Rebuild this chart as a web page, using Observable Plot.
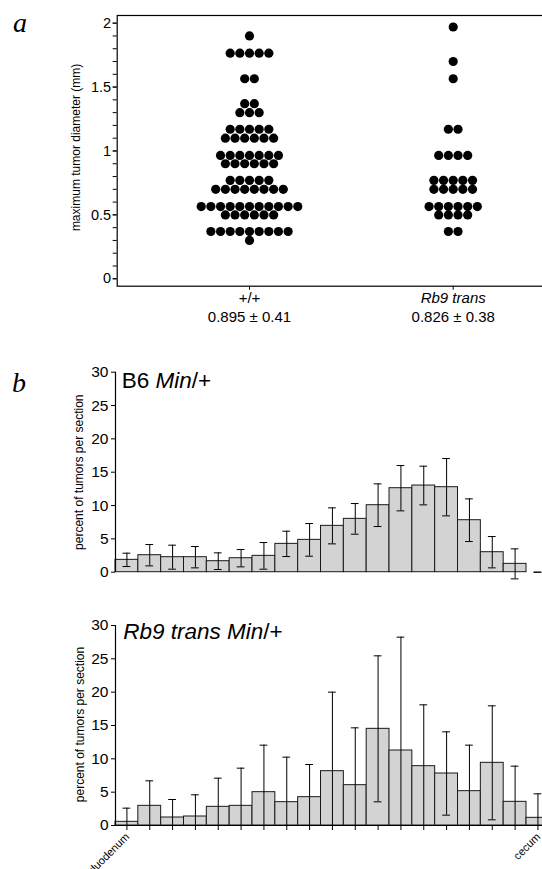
<!DOCTYPE html>
<html><head><meta charset="utf-8">
<script src="https://cdn.jsdelivr.net/npm/d3@7"></script>
<script src="https://cdn.jsdelivr.net/npm/@observablehq/plot@0.6"></script>
<style>
html,body{margin:0;padding:0;background:#fff;}
#wrap{position:relative;width:542px;height:869px;overflow:hidden;}
#wrap svg{position:absolute;left:0;display:block;}
</style></head><body><div id="wrap"></div>
<script>
// ---------- Panel a data ----------
const groups = ["+/+", "Rb9 trans"];
const groupStats = ["0.895 \u00b1 0.41", "0.826 \u00b1 0.38"];
const wtDiameters = [
  1.90,
  1.765, 1.765, 1.765, 1.765, 1.765,
  1.565, 1.565,
  1.37, 1.37,
  1.30, 1.30, 1.30,
  1.17, 1.17, 1.17, 1.17, 1.17,
  1.10, 1.10, 1.10, 1.10, 1.10, 1.10,
  0.965, 0.965, 0.965, 0.965, 0.965, 0.965, 0.965,
  0.90, 0.90, 0.90, 0.90, 0.90, 0.90,
  0.77, 0.77, 0.77, 0.77, 0.77,
  0.70, 0.70, 0.70, 0.70, 0.70, 0.70, 0.70, 0.70,
  0.565, 0.565, 0.565, 0.565, 0.565, 0.565, 0.565, 0.565, 0.565, 0.565, 0.565,
  0.50, 0.50, 0.50, 0.50, 0.50, 0.50,
  0.37, 0.37, 0.37, 0.37, 0.37, 0.37, 0.37, 0.37, 0.37,
  0.30
];
const rb9Diameters = [
  1.97,
  1.70,
  1.565,
  1.17, 1.17,
  0.965, 0.965, 0.965, 0.965,
  0.77, 0.77, 0.77, 0.77, 0.77,
  0.70, 0.70, 0.70, 0.70, 0.70,
  0.565, 0.565, 0.565, 0.565, 0.565, 0.565,
  0.50, 0.50, 0.50, 0.50,
  0.37, 0.37
];
const diamTicks = [0, 0.5, 1, 1.5, 2];
const diamMinorTicks = [0,0.1,0.2,0.3,0.4,0.5,0.6,0.7,0.8,0.9,1,1.1,1.2,1.3,1.4,1.5,1.6,1.7,1.8,1.9,2];

// ---------- Panel b data ----------
const b6Percent  = [1.85, 2.55, 2.25, 2.25, 1.65, 2.1, 2.45, 4.25, 4.85, 6.95, 8.0, 10.05, 12.6, 13.0, 12.75, 7.8, 3.0, 1.25, 0];
const b6Error    = [1.0, 1.6, 1.8, 1.6, 1.25, 1.3, 2.0, 1.9, 2.45, 2.7, 2.3, 3.2, 3.4, 2.9, 4.3, 3.2, 2.35, 2.25, 0];
const rb9Percent = [0.55, 2.95, 1.2, 1.35, 2.8, 2.95, 5.0, 3.5, 4.25, 8.15, 6.05, 14.5, 11.25, 8.9, 7.8, 5.15, 9.4, 3.55, 1.15];
const rb9Error   = [2.05, 3.75, 2.7, 3.25, 4.3, 5.65, 7.05, 6.75, 4.9, 11.85, 8.6, 10.95, 17.0, 9.2, 6.25, 6.9, 8.55, 5.35, 3.6];
const percentTicks = [0, 5, 10, 15, 20, 25, 30];
const sectionEndLabels = ["duodenum", "cecum"];

const FONT = "'Liberation Sans', Arial, Helvetica, sans-serif";
const SERIF = "'Liberation Serif', 'Times New Roman', serif";
const wrap = document.getElementById("wrap");
const fmt = d => String(d);

// ---------- Panel a ----------
function swarm(values, g, step) {
  const out = [];
  for (const [v, arr] of d3.group(values, d => d)) {
    const n = arr.length;
    arr.forEach((_, i) => out.push({group: g, value: v, xpos: g + (i - (n - 1) / 2) * step}));
  }
  return out;
}
const dotStep = 0.0474;
const dots = [...swarm(wtDiameters, 0, dotStep), ...swarm(rb9Diameters, 1, dotStep)];

const plotA = Plot.plot({
  width: 542, height: 335,
  marginLeft: 116.7, marginRight: -2, marginTop: 15, marginBottom: 49.3,
  style: {fontFamily: FONT, fontSize: "14px", color: "black", background: "transparent"},
  x: {domain: [-0.6495, 1.4482], axis: null},
  y: {domain: [-0.058, 2.06], axis: null},
  marks: [
    Plot.frame({stroke: "black", strokeWidth: 1.2}),
    Plot.axisY({ticks: diamMinorTicks, tickSize: 4, tickFormat: () => "", label: null}),
    Plot.axisY({ticks: diamTicks, tickSize: 4, tickPadding: 2, fontSize: 14.5, tickFormat: fmt, label: null}),
    Plot.axisX({ticks: [0, 1], tickSize: 4, tickFormat: () => "", label: null}),
    Plot.dot(dots, {x: "xpos", y: "value", r: 4.6, fill: "black", stroke: "none"}),
    Plot.text(groups.slice(0, 1), {x: 0, frameAnchor: "bottom", text: d => d, dy: 16.3, fontSize: 15}),
    Plot.text(groups.slice(1, 2), {x: 1, frameAnchor: "bottom", text: d => d, dy: 16.3, fontSize: 15, fontStyle: "italic"}),
    Plot.text(groupStats, {x: (d, i) => i, frameAnchor: "bottom", text: d => d, dy: 36, fontSize: 15}),
    Plot.text(["maximum tumor diameter (mm)"], {frameAnchor: "left", textAnchor: "middle", text: d => d, rotate: -90, dx: -40.7, dy: -3.4, fontSize: 12})
  ]
});
plotA.style.top = "0px";
d3.select(plotA).append("text").attr("x", 13).attr("y", 31.7).attr("text-anchor", "start")
  .attr("font-family", SERIF).attr("font-style", "italic").attr("font-size", 28).text("a");
wrap.appendChild(plotA);

// ---------- Panel b ----------
function barChart(values, errors, cfg) {
  const rows = values.map((v, i) => {
    const lo = v - errors[i], hi = v + errors[i];
    return {i, v, lo, hi};
  });
  const cap = 0.17;
  const marks = [
    Plot.rect(rows, {x1: d => d.i, x2: d => d.i + 1, y1: 0, y2: "v", fill: "#d3d3d3", stroke: "#1a1a1a", strokeWidth: 1}),
    Plot.ruleX(rows, {x: d => d.i + 0.5, y1: d => cfg.clampLow ? Math.max(0, d.lo) : d.lo, y2: "hi", stroke: "black", strokeWidth: 1}),
    Plot.ruleY(rows, {y: "hi", x1: d => d.i + 0.5 - cap, x2: d => d.i + 0.5 + cap, stroke: "black", strokeWidth: 1}),
    Plot.ruleY(rows.filter(d => !cfg.clampLow || d.lo > 0), {y: "lo", x1: d => d.i + 0.5 - cap, x2: d => d.i + 0.5 + cap, stroke: "black", strokeWidth: 1}),
    Plot.ruleX([0], {y1: percentTicks[0], y2: percentTicks[percentTicks.length - 1], stroke: "black", strokeWidth: 1.2}),
    Plot.axisY({ticks: percentTicks, tickSize: 4, tickPadding: 3, fontSize: 15.5, tickFormat: fmt, label: null}),
    Plot.text(["percent of tumors per section"], {frameAnchor: "left", textAnchor: "middle", text: d => d, rotate: -90, dx: cfg.labelDx, dy: cfg.labelDy, fontSize: 12})
  ];
  if (cfg.xAxis) {
    marks.push(
      Plot.ruleY([0], {stroke: "black", strokeWidth: 1.2}),
      Plot.axisX({ticks: rows.map(d => d.i + 0.5), tickSize: 5, tickFormat: () => "", label: null}),
      Plot.text([sectionEndLabels[0]], {x: 0.5, frameAnchor: "bottom", text: d => d, rotate: -45, textAnchor: "end", dx: 3, dy: 12, fontSize: 11}),
      Plot.text([sectionEndLabels[1]], {x: values.length - 0.5, frameAnchor: "bottom", text: d => d, rotate: -45, textAnchor: "end", dx: 3, dy: 12, fontSize: 11})
    );
  }
  return Plot.plot({
    width: 542, height: cfg.height,
    marginLeft: 115, marginRight: 0, marginTop: cfg.marginTop, marginBottom: cfg.marginBottom,
    style: {fontFamily: FONT, fontSize: "14px", color: "black", background: "transparent"},
    x: {domain: [0, 18.7], axis: null},
    y: {domain: [0, 30], axis: null},
    marks
  });
}

const plotB1 = barChart(b6Percent, b6Error, {height: 250, marginTop: 31.7, marginBottom: 18.3, labelDx: -36, labelDy: 0, clampLow: false, xAxis: false});
plotB1.style.top = "340px";
{
  const t = d3.select(plotB1).append("text").attr("x", 121.7).attr("y", 48.3).attr("text-anchor", "start")
    .attr("font-family", FONT).attr("font-size", 22.5);
  t.append("tspan").text("B6 ");
  t.append("tspan").attr("font-style", "italic").text("Min");
  t.append("tspan").text("/+");
  d3.select(plotB1).append("text").attr("x", 12).attr("y", 51.7).attr("text-anchor", "start")
    .attr("font-family", SERIF).attr("font-style", "italic").attr("font-size", 28).text("b");
}
wrap.appendChild(plotB1);

const plotB2 = barChart(rb9Percent, rb9Error, {height: 279, marginTop: 35, marginBottom: 44, labelDx: -35, labelDy: -1, clampLow: true, xAxis: true});
plotB2.style.top = "590px";
{
  const t = d3.select(plotB2).append("text").attr("x", 123.3).attr("y", 49.3).attr("text-anchor", "start")
    .attr("font-family", FONT).attr("font-size", 22.5);
  t.append("tspan").attr("font-style", "italic").text("Rb9 trans Min");
  t.append("tspan").text("/+");
}
wrap.appendChild(plotB2);
</script>
</body></html>
